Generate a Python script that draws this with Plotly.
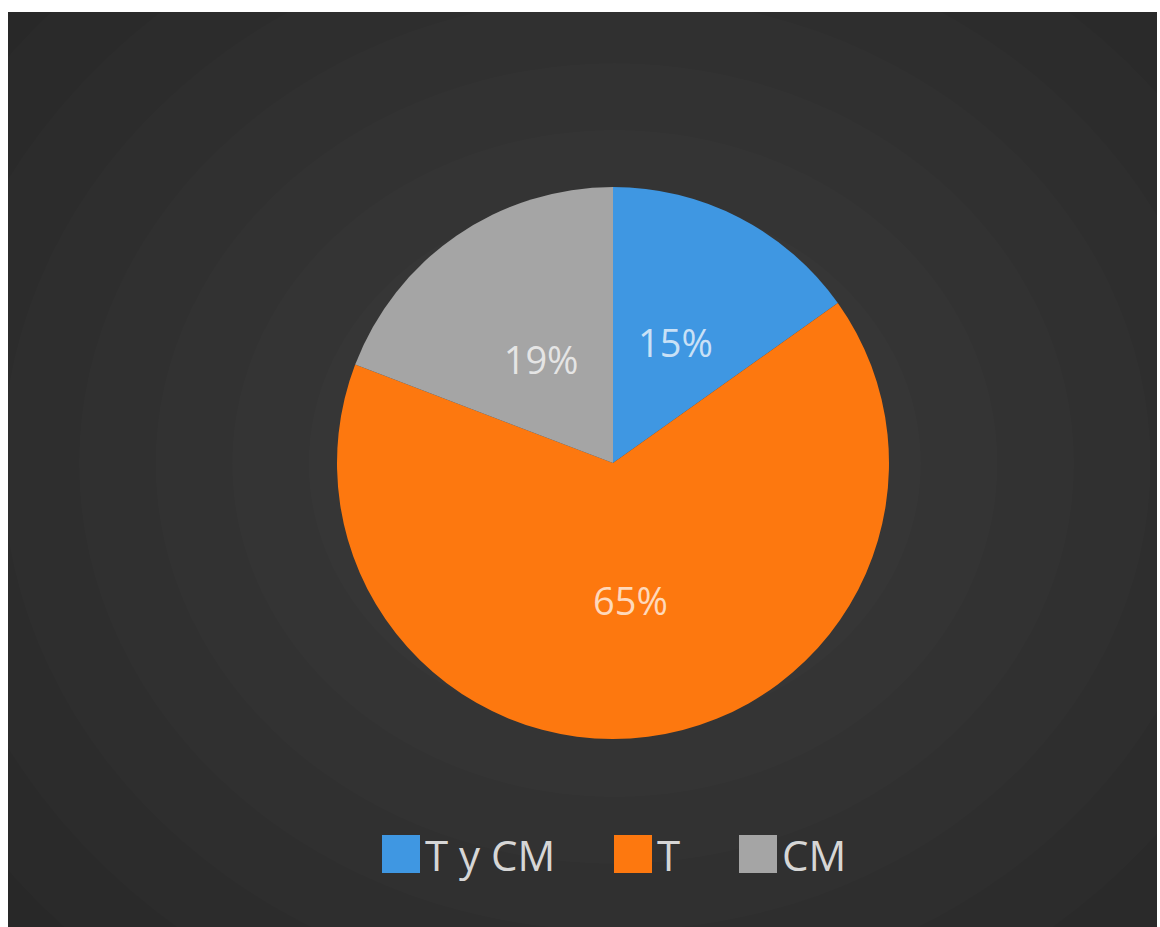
import plotly.graph_objects as go

labels = ["T y CM", "T", "CM"]
values = [15, 65, 19]
colors = ["#3f97e2", "#fd780f", "#a5a5a5"]

W, H = 1160, 927

# pie geometry (pixels)
PCX, PCY, PR = 613, 463, 276


def dom(r):
    return dict(x=[(PCX - r) / W, (PCX + r) / W], y=[(H - PCY - r) / H, (H - PCY + r) / H])


label_font = dict(family="Open Sans", size=38, color="rgba(255,255,255,0.72)")

fig = go.Figure()
# main pie: shows the large slice label
fig.add_trace(go.Pie(
    labels=labels,
    values=values,
    sort=False,
    direction="clockwise",
    rotation=0,
    marker=dict(colors=colors, line=dict(width=0)),
    texttemplate=["", "%{value}%", ""],
    textposition="inside",
    insidetextorientation="horizontal",
    textfont=label_font,
    hoverinfo="label+percent",
    domain=dom(PR),
    showlegend=False,
))
# transparent inner pie to place small-slice labels nearer the centre
fig.add_trace(go.Pie(
    labels=labels,
    values=values,
    sort=False,
    direction="clockwise",
    rotation=0,
    marker=dict(colors=["rgba(0,0,0,0)"] * 3, line=dict(width=0)),
    texttemplate=["%{value}%", "", "%{value}%"],
    textposition="inside",
    insidetextorientation="horizontal",
    textfont=label_font,
    hoverinfo="skip",
    domain=dom(PR * 0.72),
    showlegend=False,
))

shapes = []
# dark background panel (white border on top/left/right)
x0, x1, y0, y1 = 8 / W, 1157 / W, 0, (H - 12) / H
shapes.append(dict(type="rect", xref="paper", yref="paper", x0=x0, x1=x1, y0=y0, y1=y1,
                   fillcolor="#282828", line=dict(width=0), layer="below"))
# radial glow approximation
cx, cy = 0.53, 0.5
n = 10
for i in range(n):
    f = 1 - i / n
    rx, ry = 0.66 * f, 0.72 * f
    shapes.append(dict(type="circle", xref="paper", yref="paper",
                       x0=cx - rx, x1=cx + rx, y0=cy - ry, y1=cy + ry,
                       fillcolor="rgba(255,255,255,0.01)", line=dict(width=0), layer="below"))
# re-cover border area (white) over glow overflow
shapes.append(dict(type="rect", xref="paper", yref="paper", x0=0, x1=x0, y0=0, y1=1,
                   fillcolor="#ffffff", line=dict(width=0), layer="below"))
shapes.append(dict(type="rect", xref="paper", yref="paper", x0=x1, x1=1, y0=0, y1=1,
                   fillcolor="#ffffff", line=dict(width=0), layer="below"))
shapes.append(dict(type="rect", xref="paper", yref="paper", x0=0, x1=1, y0=y1, y1=1,
                   fillcolor="#ffffff", line=dict(width=0), layer="below"))

# manual legend with large square markers
leg_sq_x = [382, 614, 739]
leg_y = 854
sq = 38
annotations = []
for lab, col, sx in zip(labels, colors, leg_sq_x):
    shapes.append(dict(type="rect", xref="paper", yref="paper",
                       x0=sx / W, x1=(sx + sq) / W,
                       y0=(H - leg_y - sq / 2) / H, y1=(H - leg_y + sq / 2) / H,
                       fillcolor=col, line=dict(width=0), layer="above"))
    annotations.append(dict(x=(sx + sq + 3) / W, y=(H - leg_y) / H, xref="paper", yref="paper",
                            text=lab, showarrow=False, xanchor="left", yanchor="middle",
                            font=dict(family="Open Sans", size=42, color="#d6d6d6")))

fig.update_layout(
    width=W, height=H,
    margin=dict(l=0, r=0, t=0, b=0),
    paper_bgcolor="#ffffff",
    plot_bgcolor="rgba(0,0,0,0)",
    shapes=shapes,
    annotations=annotations,
    showlegend=False,
)

fig.write_html("out.html")
